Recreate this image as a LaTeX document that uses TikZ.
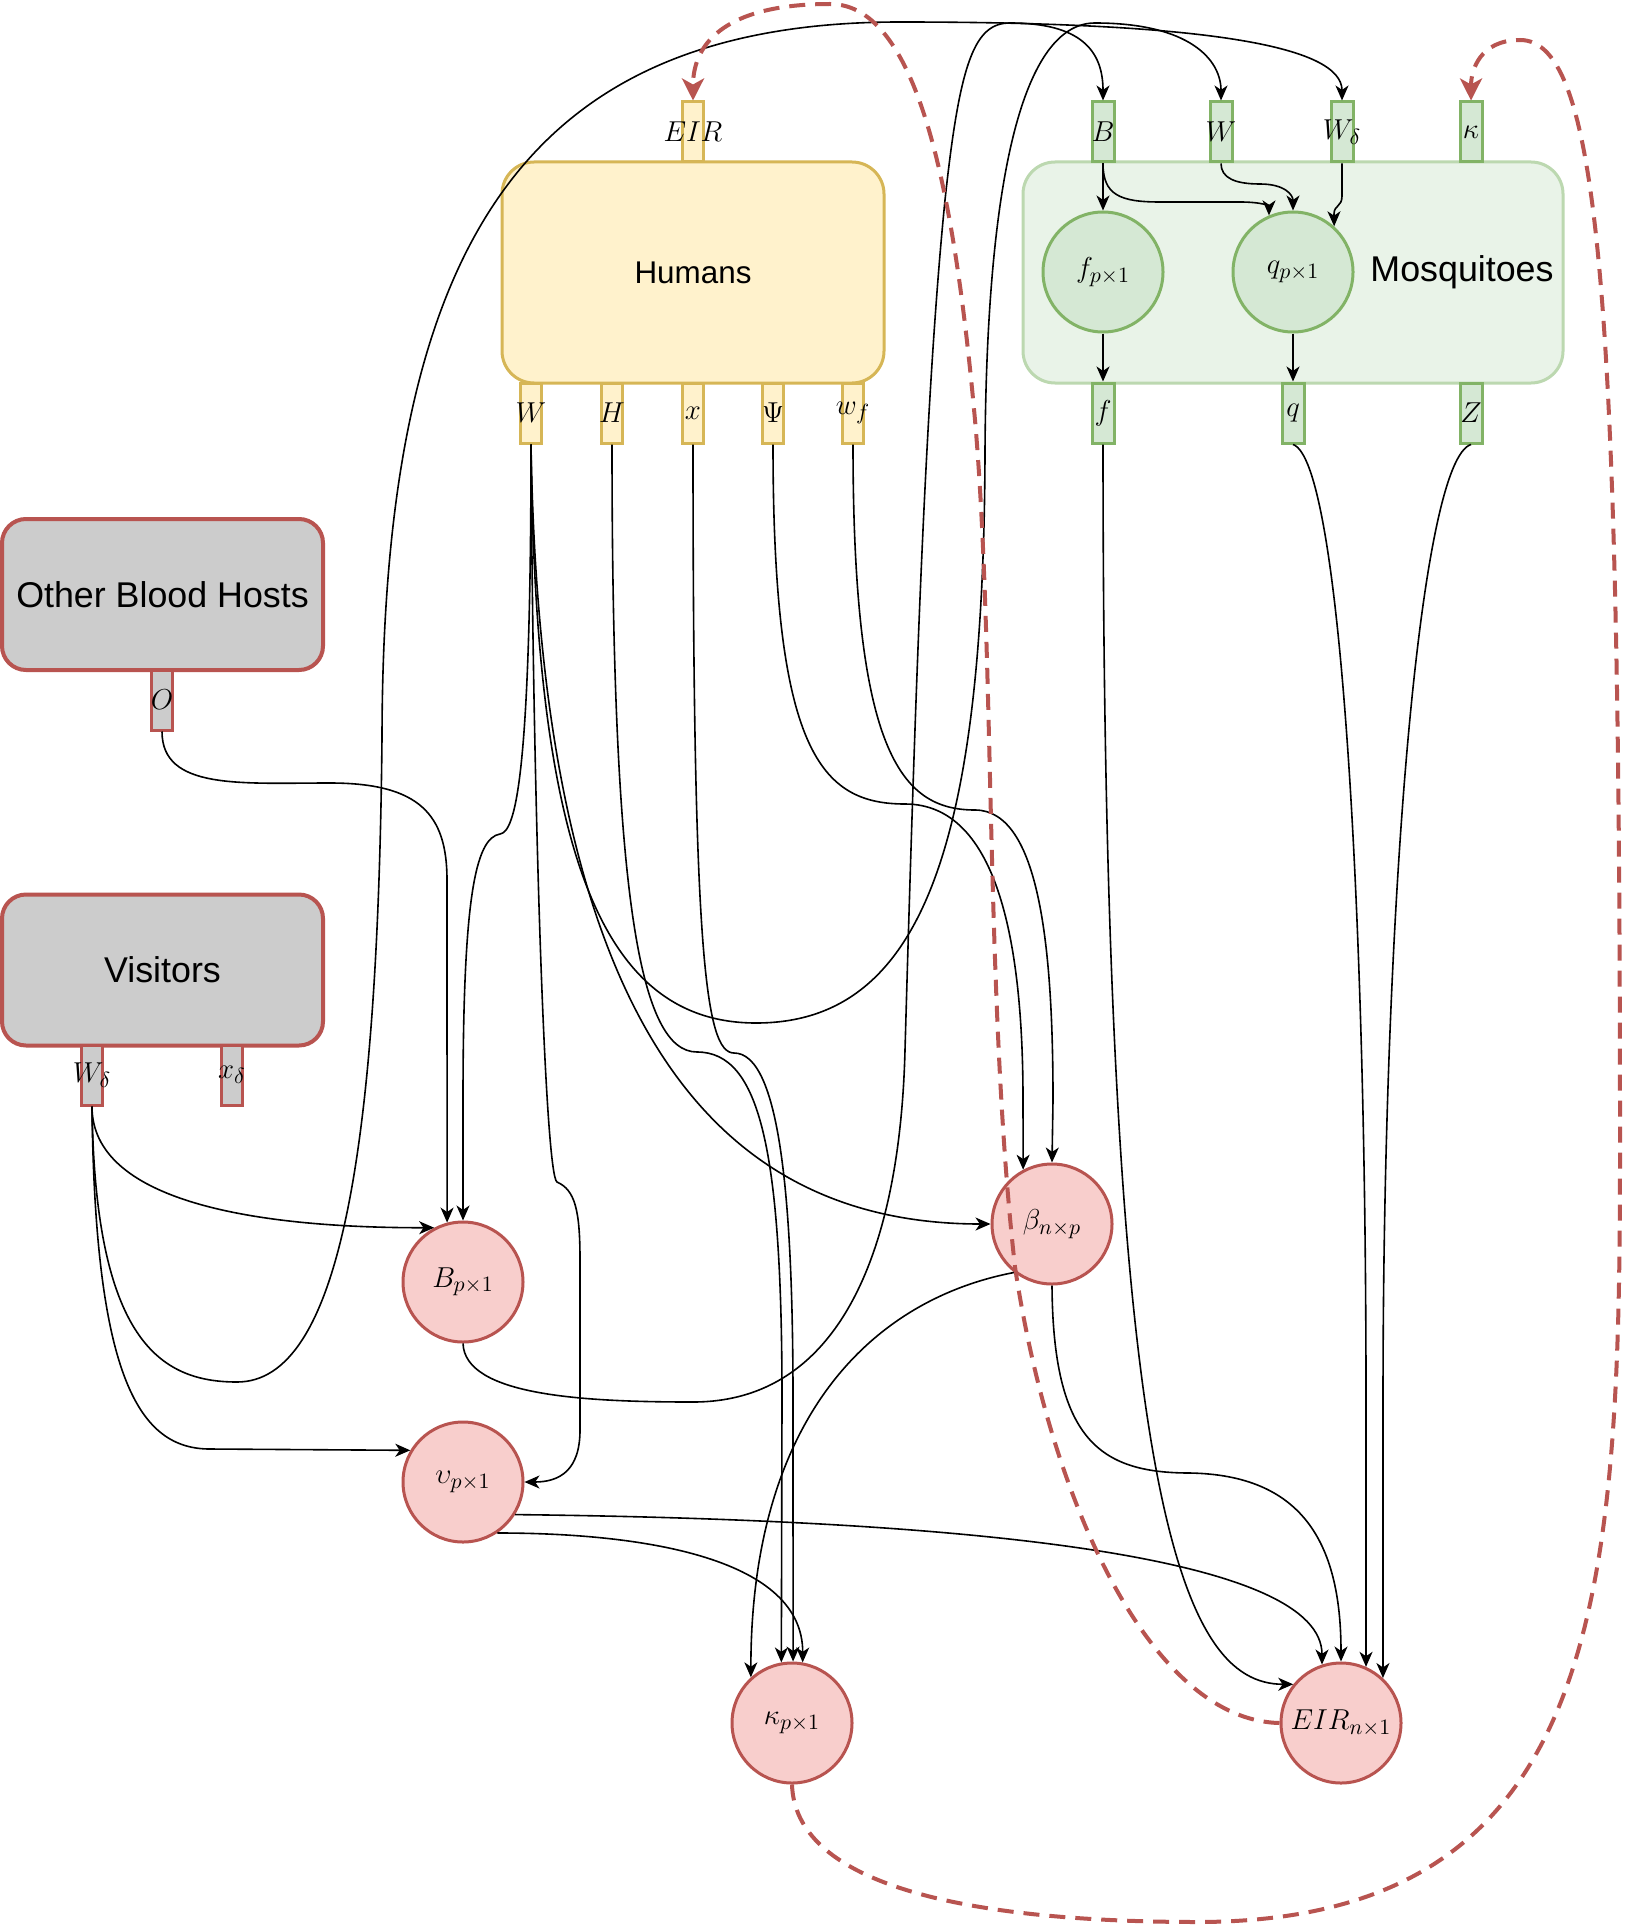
\documentclass[tikz,border=0pt]{standalone}
\usepackage[no-math]{fontspec}
\setmainfont{Liberation Sans}
\usetikzlibrary{arrows.meta}
\definecolor{hfill}{HTML}{FFF2CC}
\definecolor{hdraw}{HTML}{D6B656}
\definecolor{gfill}{HTML}{D5E8D4}
\definecolor{gdraw}{HTML}{82B366}
\definecolor{mfill}{HTML}{E9F3E8}
\definecolor{mdraw}{HTML}{BCD8B0}
\definecolor{rfill}{HTML}{F8CECC}
\definecolor{rdraw}{HTML}{B85450}
\definecolor{greyfill}{HTML}{CCCCCC}
\tikzset{
  arr/.style={line width=0.8pt, -{Stealth[length=7.5pt,width=6.5pt,inset=2.2pt]}},
  plain/.style={line width=0.8pt},
  darr/.style={line width=2pt, draw=rdraw, dash pattern=on 8pt off 5pt, -{Stealth[length=11pt,width=11pt,inset=3pt,fill=rdraw]}},
  portbase/.style={rectangle, line width=1.5pt, minimum width=10.5pt, minimum height=30pt, inner sep=0pt},
  hport/.style={portbase, draw=hdraw, fill=hfill},
  gport/.style={portbase, draw=gdraw, fill=gfill, minimum width=11pt},
  rport/.style={portbase, draw=rdraw, fill=greyfill},
  plab/.style={font=\fontsize{15}{18}\selectfont, inner sep=0pt},
  rcirc/.style={circle, draw=rdraw, fill=rfill, line width=1.5pt, minimum size=60pt, inner sep=0pt, font=\fontsize{15.5}{18}\selectfont},
  gcirc/.style={circle, draw=gdraw, fill=gfill, line width=1.5pt, minimum size=60pt, inner sep=0pt, font=\fontsize{15.5}{18}\selectfont},
  bigbox/.style={rectangle, rounded corners=16pt, line width=1.5pt, inner sep=0pt},
  greybox/.style={rectangle, rounded corners=12pt, line width=2pt, draw=rdraw, fill=greyfill, minimum width=160.5pt, minimum height=75.5pt, inner sep=0pt, font=\fontsize{17.9}{20}\selectfont},
}
\begin{document}
\begin{tikzpicture}[x=0.5pt,y=-0.5pt]
\fill[white] (0,0) rectangle (1626,1926);
\useasboundingbox (0,0) rectangle (1626,1926);

% ---------- Humans ----------
\node[bigbox, draw=hdraw, fill=hfill, minimum width=191pt, minimum height=110.5pt, font=\fontsize{15.7}{18}\selectfont] (humans) at (693,272.5) {Humans};
\node[hport, label={[plab]center:$EIR$}] (pEIR) at (693,132) {};
\node[hport, label={[plab]center:$W$}] (pW) at (531,413) {};
\node[hport, label={[plab]center:$H$}] (pH) at (612,413) {};
\node[hport, label={[plab]center:$x$}] (px) at (693,413) {};
\node[hport, label={[plab]center:$\Psi$}] (pPsi) at (773,413) {};
\node[hport, label={[plab]center:$w_f$}] (pwf) at (853,413) {};

% ---------- Mosquitoes ----------
\node[bigbox, draw=mdraw, fill=mfill, minimum width=270pt, minimum height=110.5pt] (mosq) at (1293,272.5) {};
\node[font=\fontsize{17.9}{20}\selectfont, inner sep=0pt] (mosqlab) at (1462,272) {Mosquitoes};
\node[gport, label={[plab]center:$B$}] (mB) at (1103,132) {};
\node[gport, label={[plab]center:$W$}] (mW) at (1221,132) {};
\node[gport, label={[plab]center:$W_\delta$}] (mWd) at (1342,132) {};
\node[gport, label={[plab]center:$\kappa$}] (mk) at (1471,132) {};
\node[gport, label={[plab]center:$f$}] (mf) at (1103,413) {};
\node[gport, label={[plab]center:$q$}] (mq) at (1293,413) {};
\node[gport, label={[plab]center:$Z$}] (mZ) at (1471,413) {};
\node[gcirc] (fc) at (1103,272) {$f_{p\times 1}$};
\node[gcirc] (qc) at (1293,272) {$q_{p\times 1}$};

% ---------- Other hosts / visitors ----------
\node[greybox] (other) at (162.5,594.5) {Other Blood Hosts};
\node[rport, label={[plab]center:$O$}] (pO) at (162,700) {};
\node[greybox] (visit) at (162.5,970) {Visitors};
\node[rport, label={[plab]center:$W_\delta$}] (pVW) at (92,1075) {};
\node[rport, label={[plab]center:$x_\delta$}] (pVx) at (232,1075) {};

% ---------- red circles ----------
\node[rcirc] (Bc) at (463,1282) {$B_{p\times 1}$};
\node[rcirc] (Uc) at (463,1482) {$\upsilon_{p\times 1}$};
\node[rcirc] (Kc) at (792,1723) {$\kappa_{p\times 1}$};
\node[rcirc] (Bt) at (1052,1224) {$\beta_{n\times p}$};
\node[rcirc] (Ec) at (1341,1723) {$EIR_{n\times 1}$};

% ---------- connectors ----------
% O -> B
\draw[arr] (pO.south) .. controls (162,790) and (240,783) .. (330,783) .. controls (420,783) and (447,815) .. (447,880) -- (Bc.105);
% W -> B
\draw[arr] (pW.south) .. controls (531,780) and (515,832) .. (500,834) .. controls (475,838) and (463,900) .. (463,1100) -- (Bc.north);
% W -> upsilon
\draw[arr] (pW.south) .. controls (533,800) and (545,1175) .. (557,1182) .. controls (575,1190) and (580,1210) .. (580,1260) -- (580,1430) .. controls (580,1470) and (560,1482) .. (Uc.east);
% W -> beta
\draw[arr] (pW.south) .. controls (540,1000) and (700,1224) .. (Bt.west);
% W -> mosquito W
\draw[arr] (pW.south) .. controls (535,850) and (600,1023) .. (756,1023) .. controls (920,1023) and (984,850) .. (985,450) .. controls (987,150) and (1030,23) .. (1095,23) .. controls (1190,23) and (1221,60) .. (mW.north);
% H -> kappa
\draw[arr] (pH.south) .. controls (612,900) and (640,1052) .. (697,1052) .. controls (760,1052) and (782,1150) .. (782,1400) -- (Kc.100);
% x -> kappa
\draw[arr] (px.south) .. controls (693,950) and (705,1053) .. (734,1053) .. controls (780,1053) and (793,1200) .. (793,1400) -- (Kc.89);
% Psi -> beta
\draw[arr] (pPsi.south) .. controls (773,750) and (820,804) .. (905,804) .. controls (1000,804) and (1023,950) .. (1023,1100) -- (Bt.118);
% w_f -> beta
\draw[arr] (pwf.south) .. controls (853,750) and (900,810) .. (975,810) .. controls (1040,810) and (1053,950) .. (1053,1100) -- (Bt.north);
% visitors W_delta -> B
\draw[arr] (pVW.south) .. controls (92,1200) and (250,1228) .. (Bc.118);
% visitors W_delta -> mosquito W_delta
\draw[arr] (pVW.south) .. controls (95,1340) and (160,1382) .. (237,1382) .. controls (340,1382) and (378,1150) .. (382,737) .. controls (383,250) and (520,22) .. (900,22) .. controls (1200,22) and (1342,45) .. (mWd.north);
% visitors W_delta -> upsilon
\draw[arr] (pVW.south) .. controls (95,1380) and (140,1449) .. (210,1449) -- (Uc.149);
% B circle -> mosquito B
\draw[arr] (Bc.south) .. controls (465,1395) and (580,1402) .. (693,1402) .. controls (840,1402) and (900,1250) .. (905,1050) .. controls (915,700) and (925,400) .. (945,200) .. controls (960,60) and (975,23) .. (1010,23) .. controls (1080,23) and (1103,50) .. (mB.north);
% inside mosquitoes
\draw[arr] (mB.south) -- (fc.north);
\draw[arr] (mB.south) .. controls (1103,195) and (1120,202) .. (1160,202) -- (1240,202) .. controls (1262,202) and (1269,206) .. (qc.113);
\draw[arr] (mW.south) .. controls (1221,178) and (1235,184) .. (1260,184) .. controls (1285,184) and (1293,195) .. (qc.north);
\draw[arr] (mWd.south) -- (1342,196) .. controls (1342,207) and (1334,205) .. (1334,214) -- (qc.48);
\draw[arr] (fc.south) -- (mf.north);
\draw[arr] (qc.south) -- (mq.north);
% mosquito outputs -> EIR
\draw[arr] (mf.south) .. controls (1103,1500) and (1180,1684) .. (Ec.141);
\draw[arr] (mq.south) .. controls (1340,460) and (1366,900) .. (1366,1400) -- (Ec.66);
\draw[arr] (mZ.south) .. controls (1420,460) and (1383,900) .. (1383,1400) -- (Ec.47);
% beta -> EIR
\draw[arr] (Bt.south) .. controls (1053,1440) and (1100,1473) .. (1190,1473) .. controls (1300,1475) and (1341,1540) .. (Ec.north);
% beta -> kappa
\draw[arr] (Bt.232) .. controls (870,1300) and (751,1420) .. (Kc.132);
% upsilon -> kappa
\draw[arr] (Uc.-56) .. controls (650,1533) and (803,1560) .. (Kc.80);
% upsilon -> EIR
\draw[arr] (Uc.-32) .. controls (1000,1520) and (1322,1560) .. (Ec.108);

% dashed feedbacks
\draw[darr] (Kc.south) .. controls (795,1880) and (950,1922) .. (1200,1922) .. controls (1600,1920) and (1620,1600) .. (1620,1150) .. controls (1620,300) and (1600,40) .. (1520,40) .. controls (1480,40) and (1471,70) .. (mk.north);
\draw[darr] (Ec.west) .. controls (1150,1720) and (1050,1500) .. (1015,1267) .. controls (985,1000) and (995,650) .. (975,420) .. controls (955,200) and (920,4) .. (830,4) .. controls (730,4) and (693,40) .. (pEIR.north);
\end{tikzpicture}
\end{document}
